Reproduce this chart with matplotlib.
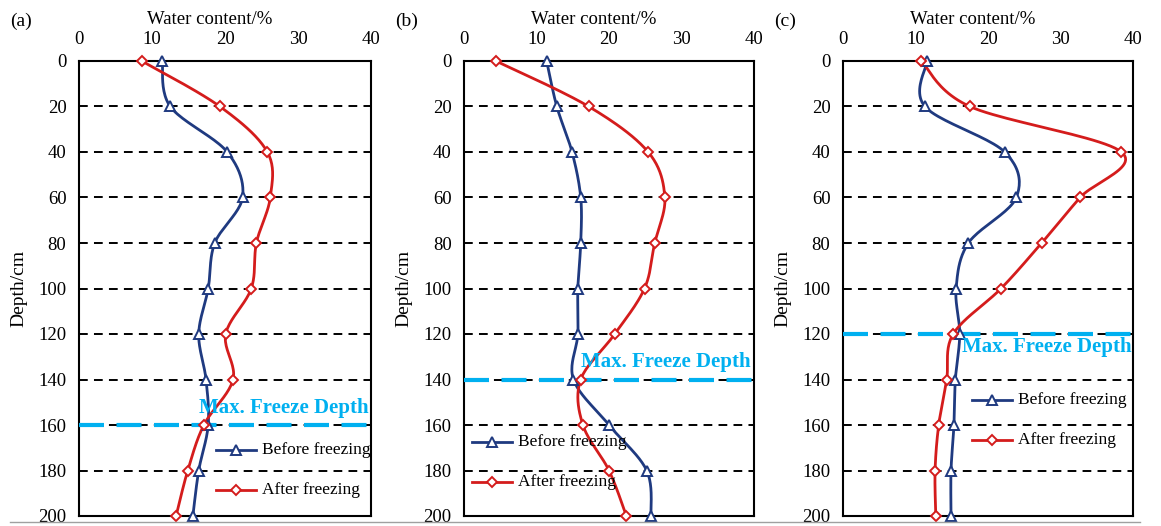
import numpy as np
import matplotlib
matplotlib.use("Agg")
import matplotlib.pyplot as plt
from matplotlib.lines import Line2D

plt.rcParams['font.family'] = ['Liberation Serif', 'DejaVu Serif']

depth = [0, 20, 40, 60, 80, 100, 120, 140, 160, 180, 200]

before_a = [11.4, 12.5, 20.3, 22.4, 18.6, 17.7, 16.4, 17.4, 17.7, 16.4, 15.6]
after_a = [8.6, 19.3, 25.8, 26.2, 24.3, 23.6, 20.1, 21.1, 17.1, 14.9, 13.3]

before_b = [11.4, 12.8, 14.9, 16.1, 16.1, 15.7, 15.7, 15.1, 20.0, 25.2, 25.8]
after_b = [4.4, 17.2, 25.4, 27.7, 26.3, 24.9, 20.8, 16.1, 16.4, 20.0, 22.4]

before_c = [11.6, 11.3, 22.3, 23.9, 17.3, 15.6, 16.1, 15.5, 15.3, 14.9, 14.9]
after_c = [10.8, 17.5, 38.4, 32.7, 27.4, 21.8, 15.2, 14.3, 13.2, 12.7, 12.8]

freeze_depth = [160, 140, 120]
panel_tags = ["(a)", "(b)", "(c)"]

BLUE = "#1f3a80"
RED = "#d41c1c"
CYAN = "#00b0f0"

W, H = 1161, 526
fig = plt.figure(figsize=(W / 100, H / 100), dpi=100)

# axes boxes in pixels: left, right
boxes = [(79, 371), (464, 754), (843, 1133)]
top, bottom = 61, 516
# legend anchor (x of handle start, y of first row) in pixels
legend_pos = [(216, 450), (472, 442), (972, 400)]
# freeze-label left x and centre y in pixels
freeze_text = [(199, 408), (581, 362), (962, 347)]


def smooth(x, y, sx, sy, n=24):
    # bezier smoothing done in screen-like units so curves look even
    px = np.asarray(x) * sx
    py = np.asarray(y) * sy
    P = np.column_stack([px, py])
    P = np.vstack([P[0], P, P[-1]])
    out = []
    for i in range(1, len(P) - 2):
        p0, p1, p2, p3 = P[i - 1], P[i], P[i + 1], P[i + 2]
        c1 = p1 + (p2 - p0) / 6
        c2 = p2 - (p3 - p1) / 6
        t = np.linspace(0, 1, n)[:, None]
        seg = ((1 - t) ** 3) * p1 + 3 * ((1 - t) ** 2) * t * c1 + 3 * (1 - t) * t ** 2 * c2 + t ** 3 * p2
        out.append(seg if i == 1 else seg[1:])
    out = np.vstack(out)
    return out[:, 0] / sx, out[:, 1] / sy


data = [(before_a, after_a), (before_b, after_b), (before_c, after_c)]

for k, ((l, r), (bef, aft)) in enumerate(zip(boxes, data)):
    ax = fig.add_axes([l / W, 1 - bottom / H, (r - l) / W, (bottom - top) / H])
    sx = (r - l) / 40.0
    sy = (bottom - top) / 200.0

    for d in depth[1:-1]:
        ax.axhline(d, color="black", lw=1.4, ls=(0, (4.5, 3.2)), zorder=1)

    ax.axhline(freeze_depth[k], xmin=0, xmax=1.015, color=CYAN, lw=3,
               ls=(0, (6, 3)), zorder=4, clip_on=False)

    for vals, col, mk in [(bef, BLUE, "^"), (aft, RED, "D")]:
        xs, ys = smooth(vals, depth, sx, sy)
        ax.plot(xs, ys, color=col, lw=2, zorder=3, clip_on=False)
        ax.plot(vals, depth, ls="none", marker=mk, ms=7.5 if mk == "^" else 5.5,
                mfc="white", mec=col, mew=1.4, zorder=5, clip_on=False)

    ax.set_xlim(0, 40)
    ax.set_ylim(200, 0)
    ax.set_xticks([0, 10, 20, 30, 40])
    ax.set_yticks(depth)
    ax.xaxis.tick_top()
    ax.tick_params(axis="x", length=0, pad=9, labelsize=13.5)
    ax.tick_params(axis="y", length=0, pad=9, labelsize=13.5)
    for s in ax.spines.values():
        s.set_linewidth(1.5)

    fig.text((l + r) / 2 / W - 0.013, 1 - 20 / H, "Water content/%",
             ha="center", va="center", fontsize=13.5)
    fig.text((l - 69) / W, 1 - 21 / H, panel_tags[k], ha="left", va="center",
             fontsize=14)
    fig.text((l - 60) / W, 1 - 288 / H, "Depth/cm", rotation=90,
             ha="center", va="center", fontsize=14)

    fx, fy = freeze_text[k]
    fig.text(fx / W, 1 - fy / H, "Max. Freeze Depth", color=CYAN,
             fontweight="bold", fontsize=15, ha="left", va="center")

    hx, hy = legend_pos[k]
    for j, (col, mk, lab) in enumerate([(BLUE, "^", "Before freezing"),
                                        (RED, "D", "After freezing")]):
        yy = 1 - (hy + 40 * j) / H
        fig.add_artist(Line2D([hx / W, (hx + 40) / W], [yy, yy], color=col, lw=2))
        fig.add_artist(Line2D([(hx + 20) / W], [yy], marker=mk,
                              ms=7.5 if mk == "^" else 5.5, mfc="white", mec=col,
                              mew=1.4))
        fig.text((hx + 46) / W, yy, lab, fontsize=12.5, ha="left", va="center")

# thin rule under the panels
fig.add_artist(Line2D([10 / W, 1140 / W], [1 - 522 / H, 1 - 522 / H],
                      color="#a0a0a0", lw=1))

fig.savefig("out.png", dpi=100)
